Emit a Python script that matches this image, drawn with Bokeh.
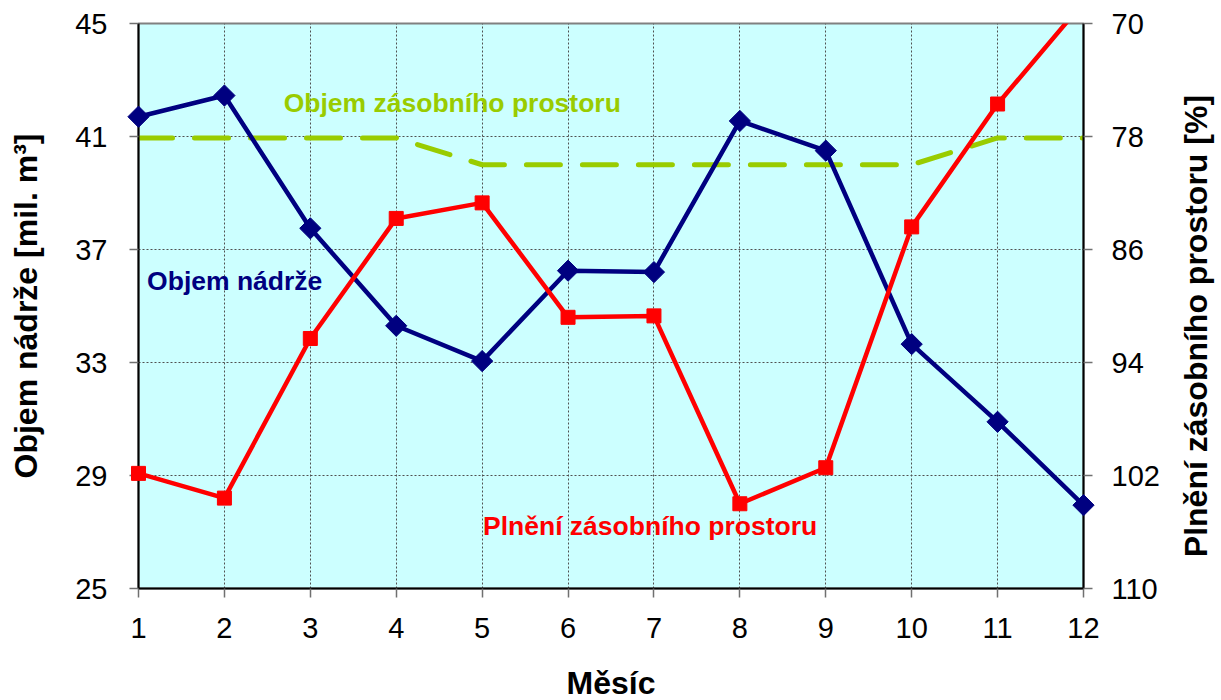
import math

from bokeh.plotting import figure
from bokeh.models import Range1d, LinearAxis, FixedTicker
from bokeh.embed import file_html
from bokeh.resources import INLINE

# ---- data -------------------------------------------------------------
months = list(range(1, 13))
objem_nadrze = [41.7, 42.45, 37.75, 34.3, 33.05, 36.25, 36.2, 41.55, 40.5, 33.65, 30.9, 27.95]
objem_zasobniho = [40.95, 40.95, 40.95, 40.95, 40.0, 40.0, 40.0, 40.0, 40.0, 40.0, 40.95, 40.95]
plneni_zasobniho = [101.85, 103.6, 92.3, 83.8, 82.7, 90.8, 90.7, 104.0, 101.45, 84.4, 75.7, 68.5]

left_ticks = [25, 29, 33, 37, 41, 45]
right_ticks = [70, 78, 86, 94, 102, 110]

FONT = "Liberation Sans"
CYAN = "#CCFFFF"
NAVY = "#000080"
RED = "#FF0000"
GREEN = "#99CC00"

p = figure(
    frame_width=945, frame_height=565,
    min_border_left=138, min_border_right=138,
    min_border_top=23, min_border_bottom=112,
    x_range=Range1d(1, 12),
    y_range=Range1d(25, 45),
    output_backend="svg", toolbar_location=None,
)
# right-hand scale runs downwards (70 at the top, 110 at the bottom)
p.extra_y_ranges = {"pct": Range1d(110, 70)}
p.background_fill_color = CYAN
p.border_fill_color = "white"
p.outline_line_color = "#808080"
p.outline_line_width = 2

# dotted grid
for grid, ticks in ((p.xgrid, months), (p.ygrid, left_ticks)):
    grid.ticker = FixedTicker(ticks=ticks)
    grid.grid_line_color = "#505050"
    grid.grid_line_dash = "2 2"
    grid.grid_line_width = 1

# ---- axes ------------------------------------------------------------
def style_axis(ax, title, standoff, title_standoff):
    ax.major_label_text_font = FONT
    ax.major_label_text_font_size = "29px"
    ax.major_label_text_color = "black"
    ax.major_label_standoff = standoff
    ax.major_tick_in = 0
    ax.major_tick_out = 9
    ax.major_tick_line_color = "#707070"
    ax.major_tick_line_width = 1.5
    ax.minor_tick_line_color = None
    ax.axis_line_color = "black"
    ax.axis_line_width = 2
    ax.axis_label = title
    ax.axis_label_text_font = FONT
    ax.axis_label_text_font_size = "32px"
    ax.axis_label_text_font_style = "bold"
    ax.axis_label_text_color = "black"
    ax.axis_label_standoff = title_standoff

xa = p.xaxis[0]
xa.ticker = FixedTicker(ticks=months)
style_axis(xa, "Měsíc", 20, 24)

ya = p.yaxis[0]
ya.ticker = FixedTicker(ticks=left_ticks)
style_axis(ya, "Objem nádrže [mil. m³]", 22, 28)

ra = LinearAxis(y_range_name="pct")
ra.ticker = FixedTicker(ticks=right_ticks)
style_axis(ra, None, 19, 0)
p.add_layout(ra, "right")

# right-hand title, reading bottom to top, placed beside the right scale
p.text(x=[13.31], y=[34.29], text=["Plnění zásobního prostoru [%]"], angle=math.pi / 2,
       text_color="black", text_font={"value": FONT}, text_font_size="32px",
       text_font_style="bold", text_align="center", text_baseline="middle",
       level="overlay")

# ---- series ----------------------------------------------------------
p.line(months, objem_zasobniho, line_color=GREEN, line_width=5,
       line_dash="34 22", line_cap="round")

p.line(months, objem_nadrze, line_color=NAVY, line_width=4.5)
p.scatter(months, objem_nadrze, marker="square", angle=math.pi / 4, size=15,
          fill_color=NAVY, line_color=NAVY, level="overlay")

p.line(months, plneni_zasobniho, line_color=RED, line_width=4.5, y_range_name="pct")
# markers are drawn unclipped, so keep only those inside the scale
red_visible = [v if 70 <= v <= 110 else float("nan") for v in plneni_zasobniho]
p.scatter(months, red_visible, marker="square", size=14,
          fill_color=RED, line_color=RED, y_range_name="pct", level="overlay")

# ---- series captions -------------------------------------------------
captions = [
    (2.69, 42.19, "Objem zásobního prostoru", GREEN),
    (1.10, 35.88, "Objem nádrže", NAVY),
    (5.01, 27.21, "Plnění zásobního prostoru", RED),
]
for cx, cy, txt, col in captions:
    p.text(x=[cx], y=[cy], text=[txt], text_color=col, text_font={"value": FONT},
           text_font_size="26.5px", text_font_style="bold",
           text_align="left", text_baseline="middle")

open("out.html", "w").write(file_html(p, INLINE))
